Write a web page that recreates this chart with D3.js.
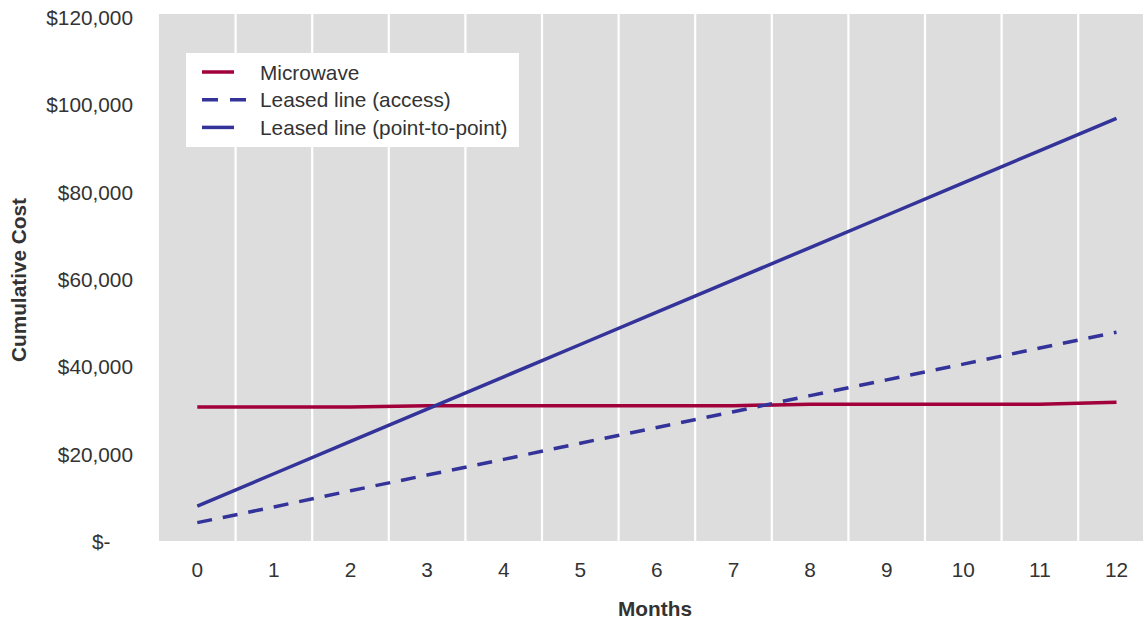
<!DOCTYPE html>
<html>
<head>
<meta charset="utf-8">
<script src="https://cdn.jsdelivr.net/npm/d3@7"></script>
<style>
  html, body { margin: 0; padding: 0; background: #fff; }
  svg text { font-family: "Liberation Sans", Arial, sans-serif; fill: #333; }
</style>
</head>
<body>
<svg id="chart" width="1143" height="621"></svg>
<script>
// Cumulative cost per month for each link option
const months = [0, 1, 2, 3, 4, 5, 6, 7, 8, 9, 10, 11, 12];
const microwave = [30700, 30700, 30700, 31000, 31000, 31000, 31000, 31000, 31300, 31300, 31300, 31300, 31800];
const leasedAccess = [4200, 7800, 11500, 15100, 18700, 22400, 26000, 29600, 33300, 36900, 40500, 44200, 47800];
const leasedP2P = [8000, 15400, 22800, 30200, 37600, 45000, 52400, 59800, 67200, 74600, 82000, 89400, 96800];

const yTicks = [0, 20000, 40000, 60000, 80000, 100000, 120000];
const yTickLabels = ["$-", "$20,000", "$40,000", "$60,000", "$80,000", "$100,000", "$120,000"];
const seriesNames = ["Microwave", "Leased line (access)", "Leased line (point-to-point)"];

const series = [
  { name: seriesNames[0], values: microwave,    color: "#a1003b", dash: null },
  { name: seriesNames[1], values: leasedAccess, color: "#333399", dash: "15,11" },
  { name: seriesNames[2], values: leasedP2P,    color: "#333399", dash: null }
];

const svg = d3.select("#chart");
const FS = 20.8;

const left = 159, bandW = 76.6;
const x = d3.scaleBand()
  .domain(months)
  .range([left, left + bandW * months.length])
  .paddingInner(0).paddingOuter(0);
const y = d3.scaleLinear().domain([0, 120000]).range([541, 17]);

// plot background
const plotTop = y(120000) - 3, plotBottom = y(0);
svg.append("rect")
  .attr("x", left).attr("y", plotTop)
  .attr("width", x.range()[1] - left).attr("height", plotBottom - plotTop)
  .attr("fill", "#dddddd");

// vertical separators between months
svg.append("g").selectAll("line")
  .data(months.slice(1))
  .join("line")
  .attr("x1", d => x(d)).attr("x2", d => x(d))
  .attr("y1", plotTop).attr("y2", plotBottom)
  .attr("stroke", "#ffffff").attr("stroke-width", 2.2);

// y axis labels
const yAxis = d3.axisLeft(y)
  .tickValues(yTicks)
  .tickSize(0)
  .tickPadding(0)
  .tickFormat((d, i) => yTickLabels[i]);
const gy = svg.append("g").attr("transform", "translate(133,1)").call(yAxis);
gy.select(".domain").remove();
gy.selectAll("text")
  .attr("font-size", FS)
  .attr("fill", "#333")
  .attr("dx", d => d === 0 ? -FS * 0.556 * 2 + 0.5 : 0);

// x axis labels
const xAxis = d3.axisBottom(x).tickSize(0).tickPadding(0);
const gx = svg.append("g").attr("transform", "translate(0,562)").call(xAxis);
gx.select(".domain").remove();
gx.selectAll("text").attr("font-size", FS).attr("fill", "#333").attr("dy", "0.71em");

// series lines
const line = d3.line()
  .x((d, i) => x(months[i]) + x.bandwidth() / 2)
  .y(d => y(d));

svg.append("g").selectAll("path")
  .data(series)
  .join("path")
  .attr("d", d => line(d.values))
  .attr("fill", "none")
  .attr("stroke", d => d.color)
  .attr("stroke-width", 3.5)
  .attr("stroke-dasharray", d => d.dash);

// axis titles
svg.append("text")
  .attr("transform", "translate(18,280) rotate(-90)")
  .attr("text-anchor", "middle")
  .attr("dominant-baseline", "central")
  .attr("font-size", FS).attr("font-weight", "bold")
  .text("Cumulative Cost");

svg.append("text")
  .attr("x", 655).attr("y", 608)
  .attr("text-anchor", "middle")
  .attr("dominant-baseline", "central")
  .attr("font-size", FS).attr("font-weight", "bold")
  .text("Months");

// legend
const lg = svg.append("g").attr("transform", "translate(186,53)");
lg.append("rect").attr("width", 333).attr("height", 94).attr("fill", "#fff");
const rows = lg.selectAll("g.row")
  .data(series)
  .join("g")
  .attr("class", "row")
  .attr("transform", (d, i) => `translate(0,${19 + i * 27.7})`);
rows.append("line")
  .attr("x1", 16).attr("x2", d => d.dash ? 61 : 48)
  .attr("y1", 0).attr("y2", 0)
  .attr("stroke", d => d.color)
  .attr("stroke-width", 3.5)
  .attr("stroke-dasharray", d => d.dash ? "16,12" : null);
rows.append("text")
  .attr("x", 74).attr("y", 0)
  .attr("dominant-baseline", "central")
  .attr("font-size", FS)
  .text(d => d.name);
</script>
</body>
</html>
